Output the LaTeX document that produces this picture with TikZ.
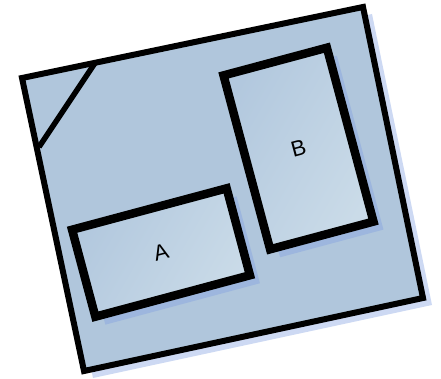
\documentclass[tikz,border=0pt]{standalone}
\usepackage{fontspec}
\setmainfont{Liberation Sans}
\usetikzlibrary{shadows}
\definecolor{boardblue}{RGB}{176,198,220}
\definecolor{partdark}{RGB}{178,200,222}
\definecolor{partlight}{RGB}{202,219,232}
\definecolor{shadowblue}{RGB}{130,160,225}
\tikzset{
  plate/.style={draw=black, line width=6pt, fill=boardblue,
    drop shadow={shadow xshift=9pt, shadow yshift=-7pt, fill=shadowblue, opacity=0.4}},
  part/.style={rectangle, draw=black, line width=8.5pt, inner sep=0pt,
    left color=partdark, right color=partlight, shading angle=60,
    font=\fontsize{22}{22}\selectfont,
    drop shadow={shadow xshift=10pt, shadow yshift=-8pt, fill=shadowblue, opacity=0.4}},
}
\begin{document}
\begin{tikzpicture}[x=1pt, y=1pt]
    \useasboundingbox (0,0) rectangle (441,378);

    % Board
    \coordinate (tl) at (22,300);
    \coordinate (tr) at (363,371);
    \coordinate (br) at (423,80);
    \coordinate (bl) at (84,7);
    \draw[plate] (tl) -- (tr) -- (br) -- (bl) -- cycle;

    % Cut corner
    \coordinate (cuttop) at (95,315);
    \coordinate (cutleft) at (39,231);
    \draw[line width=5.5pt] (cuttop) -- (cutleft);

    % Parts
    \node[part, rotate=15, minimum width=160, minimum height=90] (A) at (161,125.5) {A};
    \node[part, rotate=15, minimum width=107, minimum height=180] (B) at (298.5,229.5) {B};
\end{tikzpicture}
\end{document}
